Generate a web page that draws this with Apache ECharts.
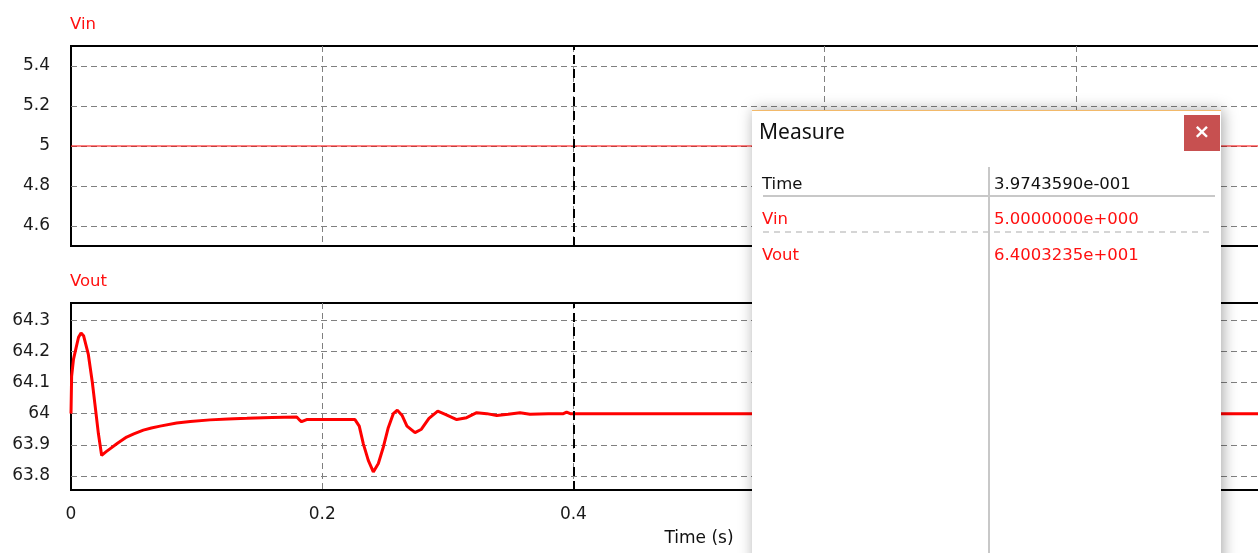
<!DOCTYPE html>
<html>
<head>
<meta charset="utf-8">
<script src="https://cdn.jsdelivr.net/npm/echarts@6/dist/echarts.min.js"></script>
<style>
html,body{margin:0;padding:0;background:#fff;}
#chart{width:1258px;height:553px;}
</style>
</head>
<body>
<div id="chart"></div>
<script>
// ---- data ----
const vinTime = [0, 1];
const vinValues = [5, 5];

const voutTime = [0, 0.0005, 0.002, 0.004, 0.006, 0.008, 0.010, 0.0138, 0.017, 0.019, 0.0218, 0.0244,
  0.028, 0.031, 0.037, 0.0443, 0.05, 0.0576, 0.064, 0.0709, 0.0841, 0.095, 0.1107, 0.125, 0.14, 0.16,
  0.1797, 0.1816, 0.1836, 0.1876, 0.2261, 0.2295, 0.2327, 0.2367, 0.2407, 0.2447, 0.2487, 0.2526,
  0.2566, 0.2598, 0.2635, 0.2675, 0.2739, 0.279, 0.285, 0.292, 0.298, 0.3071, 0.315, 0.323, 0.331,
  0.339, 0.348, 0.3575, 0.3654, 0.38, 0.392, 0.3946, 0.3975, 0.4, 1.0];
const voutValues = [64.0, 64.12, 64.175, 64.21, 64.245, 64.259, 64.25, 64.19, 64.1, 64.032, 63.936, 63.866,
  63.878, 63.887, 63.905, 63.925, 63.935, 63.947, 63.954, 63.960, 63.970, 63.975, 63.980, 63.983, 63.985, 63.988,
  63.989, 63.981, 63.974, 63.981, 63.981, 63.96, 63.904, 63.85, 63.813, 63.84, 63.893, 63.955,
  64.0, 64.011, 63.995, 63.96, 63.939, 63.95, 63.985, 64.008, 63.998, 63.981, 63.987, 64.003, 64.0,
  63.994, 63.998, 64.003, 63.998, 64.0, 64.0, 64.005, 64.0, 64.0, 64.0];

const cursorTime = 0.4;
const panelTitles = ['Vin', 'Vout'];
const measureNames = ['Time', 'Vin', 'Vout'];
const measureValues = ['3.9743590e-001', '5.0000000e+000', '6.4003235e+001'];
const measureColors = ['#111', '#ff1010', '#ff1010'];

// ---- chart ----
const FONT = '"DejaVu Sans", sans-serif';
const gridLine = {show: true, showMinLine: false, showMaxLine: false, lineStyle: {color: '#808080', type: [6, 4], width: 1}};
const labelStyle = {color: '#1a1a1a', fontSize: 17, fontFamily: FONT};

function pairs(xs, ys) { return xs.map((x, i) => [x, ys[i]]); }

const cursorMark = {
  silent: true, symbol: 'none', label: {show: false},
  lineStyle: {color: '#000', type: [9, 5], width: 2},
  data: [{xAxis: cursorTime}]
};

const chart = echarts.init(document.getElementById('chart'), null, {renderer: 'canvas'});

const rowY = [185, 220, 256];
const dialogGraphics = [
  {type: 'rect', z: 100, shape: {x: 752, y: 110, width: 469, height: 460},
   style: {fill: '#fff', shadowBlur: 14, shadowColor: 'rgba(0,0,0,0.35)', shadowOffsetX: 2, shadowOffsetY: 0}},
  {type: 'line', z: 101, shape: {x1: 752, y1: 110.5, x2: 1221, y2: 110.5}, style: {stroke: '#f2b96a', lineWidth: 1}},
  {type: 'text', z: 101, style: {text: 'Measure', x: 759, y: 133, fill: '#111',
    font: '21px "Noto Sans", "Open Sans", sans-serif', textVerticalAlign: 'middle', verticalAlign: 'middle'}},
  {type: 'rect', z: 101, shape: {x: 1184, y: 115, width: 36, height: 36}, style: {fill: '#c75050'}},
  {type: 'text', z: 102, style: {text: '×', x: 1202, y: 133, fill: '#fff', font: 'bold 20px "DejaVu Sans", sans-serif',
    align: 'center', textAlign: 'center', verticalAlign: 'middle', textVerticalAlign: 'middle'}},
  {type: 'line', z: 101, shape: {x1: 989, y1: 167, x2: 989, y2: 553}, style: {stroke: '#c8c8c8', lineWidth: 2}},
  {type: 'line', z: 101, shape: {x1: 763, y1: 196, x2: 1215, y2: 196}, style: {stroke: '#c8c8c8', lineWidth: 2}},
  {type: 'line', z: 101, shape: {x1: 763, y1: 232, x2: 1213, y2: 232}, style: {stroke: '#c8c8c8', lineWidth: 1.5, lineDash: [6, 5]}}
];
measureNames.forEach((n, i) => {
  dialogGraphics.push({type: 'text', z: 102, style: {text: n, x: 762, y: rowY[i], fill: measureColors[i],
    font: '16.5px ' + FONT, verticalAlign: 'middle', textVerticalAlign: 'middle'}});
  dialogGraphics.push({type: 'text', z: 102, style: {text: measureValues[i], x: 994, y: rowY[i], fill: measureColors[i],
    font: '16.5px ' + FONT, verticalAlign: 'middle', textVerticalAlign: 'middle'}});
});

const option = {
  animation: false,
  backgroundColor: '#fff',
  grid: [
    {left: 71, top: 46, width: 1256, height: 200, show: true, borderColor: '#000', borderWidth: 2,
     backgroundColor: 'transparent', outerBoundsMode: 'none', containLabel: false},
    {left: 71, top: 303, width: 1256, height: 187, show: true, borderColor: '#000', borderWidth: 2,
     backgroundColor: 'transparent', outerBoundsMode: 'none', containLabel: false}
  ],
  xAxis: [
    {gridIndex: 0, type: 'value', min: 0, max: 1, interval: 0.2,
     axisLabel: {show: false}, axisLine: {show: false}, axisTick: {show: false}, splitLine: gridLine},
    {gridIndex: 1, type: 'value', min: 0, max: 1, interval: 0.2,
     axisLabel: Object.assign({margin: 16}, labelStyle), axisLine: {show: false}, axisTick: {show: false}, splitLine: gridLine,
     name: 'Time (s)', nameLocation: 'middle', nameGap: 40,
     nameTextStyle: {color: '#111', fontSize: 17, fontFamily: FONT}}
  ],
  yAxis: [
    {gridIndex: 0, type: 'value', min: 4.5, max: 5.5, splitNumber: 5,
     axisLabel: Object.assign({margin: 21, showMinLabel: false, showMaxLabel: false}, labelStyle),
     axisLine: {show: false}, axisTick: {show: false}, splitLine: gridLine},
    {gridIndex: 1, type: 'value', min: 63.755, max: 64.355, splitNumber: 5,
     axisLabel: Object.assign({margin: 21, showMinLabel: false, showMaxLabel: false}, labelStyle),
     axisLine: {show: false}, axisTick: {show: false}, splitLine: gridLine}
  ],
  series: [
    {name: 'Vin', type: 'line', xAxisIndex: 0, yAxisIndex: 0, data: pairs(vinTime, vinValues),
     showSymbol: false, lineStyle: {color: '#ff0000', width: 1.2}, markLine: cursorMark, z: 3},
    {name: 'Vout', type: 'line', xAxisIndex: 1, yAxisIndex: 1, data: pairs(voutTime, voutValues),
     showSymbol: false, lineStyle: {color: '#ff0000', width: 3}, markLine: cursorMark, z: 3}
  ],
  graphic: [
    {type: 'text', left: 70, top: 16, style: {text: panelTitles[0], fill: '#ff1010', font: '16.5px ' + FONT}},
    {type: 'text', left: 70, top: 273, style: {text: panelTitles[1], fill: '#ff1010', font: '16.5px ' + FONT}}
  ].concat(dialogGraphics)
};
chart.setOption(option);
</script>
</body>
</html>
